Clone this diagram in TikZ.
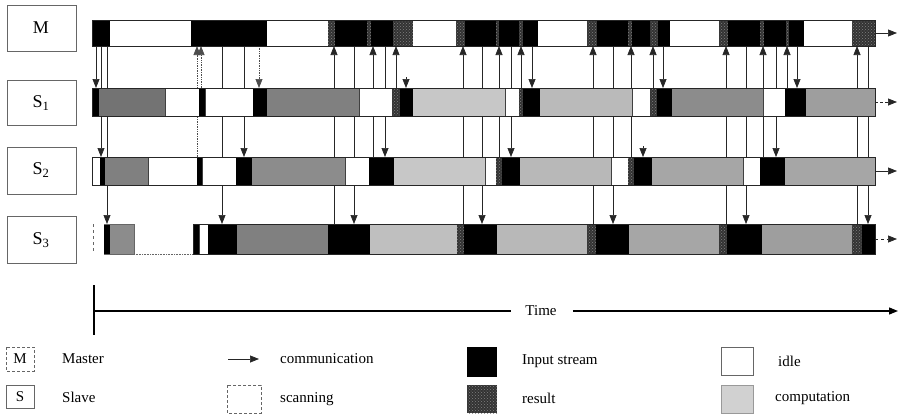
\documentclass[tikz,border=0pt]{standalone}
\usepackage{fontspec}
\setmainfont{Liberation Serif}
\usetikzlibrary{arrows.meta,patterns,backgrounds}
\tikzset{
  inp/.style={fill=black},
  res/.style={fill=black!80, postaction={pattern=crosshatch dots, pattern color=black!50}},
  idl/.style={fill=white, draw=black!75, line width=0.6pt},
  scanw/.style={fill=white},
  comp/.style={fill=black!#1},
  comp/.default=35,
  barline/.style={draw=black!85, line width=0.7pt},
  lbox/.style={draw=black!60, line width=0.6pt},
  conn/.style={draw=black!85, line width=0.7pt, -{Triangle[width=7pt,length=9pt]}},
  connd/.style={conn, densely dotted, draw=black!70},
  lbl/.style={font=\fontsize{18}{20}\selectfont, inner sep=0pt},
  leg/.style={font=\fontsize{15}{17}\selectfont, inner sep=0pt, anchor=west},
  barnode/.style={inner sep=0pt, outer sep=0pt, anchor=north west},
}
\newcommand\Mseg[3]{\path[#3] (#1,20) rectangle (#2,46);}
\newcommand\Aseg[3]{\path[#3] (#1,88) rectangle (#2,116);}
\newcommand\Bseg[3]{\path[#3] (#1,157) rectangle (#2,185);}
\newcommand\Cseg[3]{\path[#3] (#1,224) rectangle (#2,254);}
\newcommand\toM[3]{\draw[#3] (#1,0 |- #2.north) -- (#1,0 |- Mbar.south);}
\newcommand\fromM[3]{\draw[#3] (#1,0 |- Mbar.south) -- (#1,0 |- #2.north);}
\begin{document}
\begin{tikzpicture}[x=1pt,y=-1pt]
\useasboundingbox (0,0) rectangle (902,415);
\begin{pgfonlayer}{background}
\fill[white] (0,0) rectangle (902,415);
\end{pgfonlayer}

% label boxes
\draw[lbox] (7,5) rectangle (76,51);
\node[lbl] (lM) at (41,28) {M};
\draw[lbox] (7,80) rectangle (76,125);
\node[lbl] (lS1) at (41,103) {S\textsubscript{1}};
\draw[lbox] (7,147) rectangle (76,194);
\node[lbl] (lS2) at (41,170) {S\textsubscript{2}};
\draw[lbox] (7,216) rectangle (76,263);
\node[lbl] (lS3) at (41,240) {S\textsubscript{3}};

% bar nodes (names)
\node[barnode, minimum width=783pt, minimum height=26pt] (Mbar) at (92,20) {};
\node[barnode, minimum width=783pt, minimum height=28pt] (S1bar) at (92,88) {};
\node[barnode, minimum width=783pt, minimum height=28pt] (S2bar) at (92,157) {};
\node[barnode, minimum width=782pt, minimum height=30pt] (S3bar) at (93,224) {};

% M bar
\Mseg{92}{110}{inp}\Mseg{110}{191}{scanw}\Mseg{191}{267}{inp}\Mseg{267}{328}{scanw}
\Mseg{328}{335}{res}\Mseg{335}{367}{inp}\Mseg{367}{371}{res}\Mseg{371}{393}{inp}\Mseg{393}{413}{res}
\Mseg{413}{456}{scanw}
\Mseg{456}{465}{res}\Mseg{465}{496}{inp}\Mseg{496}{499}{res}\Mseg{499}{519}{inp}\Mseg{519}{523}{res}\Mseg{523}{538}{inp}
\Mseg{538}{587}{scanw}
\Mseg{587}{597}{res}\Mseg{597}{628}{inp}\Mseg{628}{632}{res}\Mseg{632}{650}{inp}\Mseg{650}{658}{res}\Mseg{658}{670}{inp}
\Mseg{670}{719}{scanw}
\Mseg{719}{728}{res}\Mseg{728}{760}{inp}\Mseg{760}{764}{res}\Mseg{764}{786}{inp}\Mseg{786}{789}{res}\Mseg{789}{804}{inp}
\Mseg{804}{852}{scanw}\Mseg{852}{875}{res}
\draw[barline] (Mbar.north west) rectangle (Mbar.south east);

% S1 bar
\Aseg{92}{99}{inp}\Aseg{99}{165}{comp=55}\Aseg{165}{199}{idl}\Aseg{199}{205}{inp}\Aseg{205}{253}{idl}
\Aseg{253}{267}{inp}\Aseg{267}{359}{comp=50}\Aseg{359}{392}{idl}\Aseg{392}{400}{res}\Aseg{400}{413}{inp}
\Aseg{413}{505}{comp=22}\Aseg{505}{519}{idl}\Aseg{519}{523}{res}\Aseg{523}{540}{inp}\Aseg{540}{632}{comp=27}
\Aseg{632}{650}{idl}\Aseg{650}{657}{res}\Aseg{657}{672}{inp}\Aseg{672}{763}{comp=45}\Aseg{763}{785}{idl}
\Aseg{785}{806}{inp}\Aseg{806}{875}{comp=38}
\draw[barline] (S1bar.north west) rectangle (S1bar.south east);

% S2 bar
\Bseg{92}{100}{idl}\Bseg{100}{105}{inp}\Bseg{105}{148}{comp=50}\Bseg{148}{197}{idl}\Bseg{197}{202}{inp}
\Bseg{202}{236}{idl}\Bseg{236}{252}{inp}\Bseg{252}{345}{comp=45}\Bseg{345}{369}{idl}\Bseg{369}{394}{inp}
\Bseg{394}{485}{comp=22}\Bseg{485}{496}{idl}\Bseg{496}{502}{res}\Bseg{502}{520}{inp}\Bseg{520}{611}{comp=28}
\Bseg{611}{628}{idl}\Bseg{628}{634}{res}\Bseg{634}{652}{inp}\Bseg{652}{743}{comp=35}\Bseg{743}{760}{idl}
\Bseg{760}{785}{inp}\Bseg{785}{875}{comp=35}
\draw[barline] (S2bar.north west) rectangle (S2bar.south east);

% S3 bar
\Cseg{104}{110}{inp}\Cseg{110}{134}{comp=45}
\draw[black!60, line width=0.6pt, dashed] (93,224) -- (93,254);
\draw[black!60, line width=0.6pt, densely dotted] (134,254) -- (193,254);
\Cseg{193}{199}{inp}\Cseg{199}{208}{idl}\Cseg{208}{237}{inp}\Cseg{237}{328}{comp=50}\Cseg{328}{370}{inp}
\Cseg{370}{457}{comp=25}\Cseg{457}{464}{res}\Cseg{464}{497}{inp}\Cseg{497}{587}{comp=28}
\Cseg{587}{596}{res}\Cseg{596}{629}{inp}\Cseg{629}{719}{comp=35}\Cseg{719}{727}{res}\Cseg{727}{762}{inp}
\Cseg{762}{852}{comp=38}\Cseg{852}{862}{res}\Cseg{862}{875}{inp}
\draw[barline] (193,224) -- (875,224) -- (875,254) -- (193,254) -- cycle;
\draw[black!60, line width=0.6pt] (104,224) -- (134,224) -- (134,254) -- (104,254);

% end arrows
\coordinate (eM) at (897,33);
\coordinate (eS1) at (897,102);
\coordinate (eS2) at (897,171);
\coordinate (eS3) at (897,239);
\draw[conn] (Mbar.east) -- (eM);
\draw[conn, densely dashed] (S1bar.east) -- (eS1);
\draw[conn] (S2bar.east) -- (eS2);
\draw[conn, dashed] (S3bar.east) -- (eS3);

% connectors (behind bars)
\begin{pgfonlayer}{background}
\fromM{96}{S1bar}{conn}
\fromM{101}{S2bar}{conn}
\fromM{107}{S3bar}{conn}
\toM{197}{S2bar}{connd}
\toM{201}{S1bar}{connd}
\fromM{222}{S3bar}{conn}
\fromM{244}{S2bar}{conn}
\fromM{259}{S1bar}{connd}
\toM{334}{S3bar}{conn}
\fromM{354}{S3bar}{conn}
\toM{373}{S2bar}{conn}
\fromM{385}{S2bar}{conn}
\toM{396}{S1bar}{conn}
\toM{463}{S3bar}{conn}
\fromM{482}{S3bar}{conn}
\toM{499}{S2bar}{conn}
\fromM{511}{S2bar}{conn}
\toM{521}{S1bar}{conn}
\fromM{532}{S1bar}{conn}
\toM{593}{S3bar}{conn}
\fromM{613}{S3bar}{conn}
\toM{631}{S2bar}{conn}
\toM{653}{S1bar}{conn}
\fromM{663}{S1bar}{conn}
\toM{726}{S3bar}{conn}
\fromM{746}{S3bar}{conn}
\toM{763}{S2bar}{conn}
\fromM{776}{S2bar}{conn}
\toM{787}{S1bar}{conn}
\fromM{797}{S1bar}{conn}
\toM{857}{S3bar}{conn}
\fromM{868}{S3bar}{conn}
\end{pgfonlayer}
% short arrow stubs
\coordinate (st1) at (406,77);
\draw[conn] (st1) -- (406,0 |- S1bar.north);
\coordinate (st2) at (643,146);
\draw[conn] (st2) -- (643,0 |- S2bar.north);

% time axis
\coordinate (tTop) at (94,285);
\coordinate (tBot) at (94,335);
\coordinate (tL) at (94,311);
\coordinate (tEnd) at (898,311);
\draw[line width=1.1pt] (tTop) -- (tBot);
\node[font=\fontsize{15}{17}\selectfont, inner sep=0pt] (time) at (541,311) {Time};
\draw[line width=1.3pt] (tL) -- ([xshift=-14pt]time.west);
\draw[line width=1.3pt, -{Triangle[width=7pt,length=9pt]}] ([xshift=16pt]time.east) -- (tEnd);

% legend
\draw[lbox, densely dashed] (6,347) rectangle (34,371);
\node[font=\fontsize{15}{17}\selectfont, inner sep=0pt] (kM) at (20,359) {M};
\node[leg] (tM) at (62,359) {Master};
\draw[lbox] (6,385) rectangle (34,408);
\node[font=\fontsize{15}{17}\selectfont, inner sep=0pt] (kS) at (20,396.5) {S};
\node[leg] (tS) at (62,397) {Slave};

\coordinate (ca) at (228,359);
\coordinate (cb) at (259,359);
\draw[conn] (ca) -- (cb);
\node[leg] (tC) at (280,359) {communication};
\draw[lbox, densely dashed] (227,385) rectangle (261,413);
\node[leg] (tSc) at (280,399) {scanning};

\path[inp] (467,347) rectangle (497,377);
\node[leg] (tI) at (522,361) {Input stream};
\path[res] (467,385) rectangle (497,413);
\node[leg] (tR) at (522,398) {result};

\draw[lbox] (721,347) rectangle (753,375);
\node[leg] (tId) at (778,361) {idle};
\path[comp=18, draw=black!40] (721,385) rectangle (753,413);
\node[leg] (tCo) at (775,398) {computation};
\end{tikzpicture}
\end{document}
